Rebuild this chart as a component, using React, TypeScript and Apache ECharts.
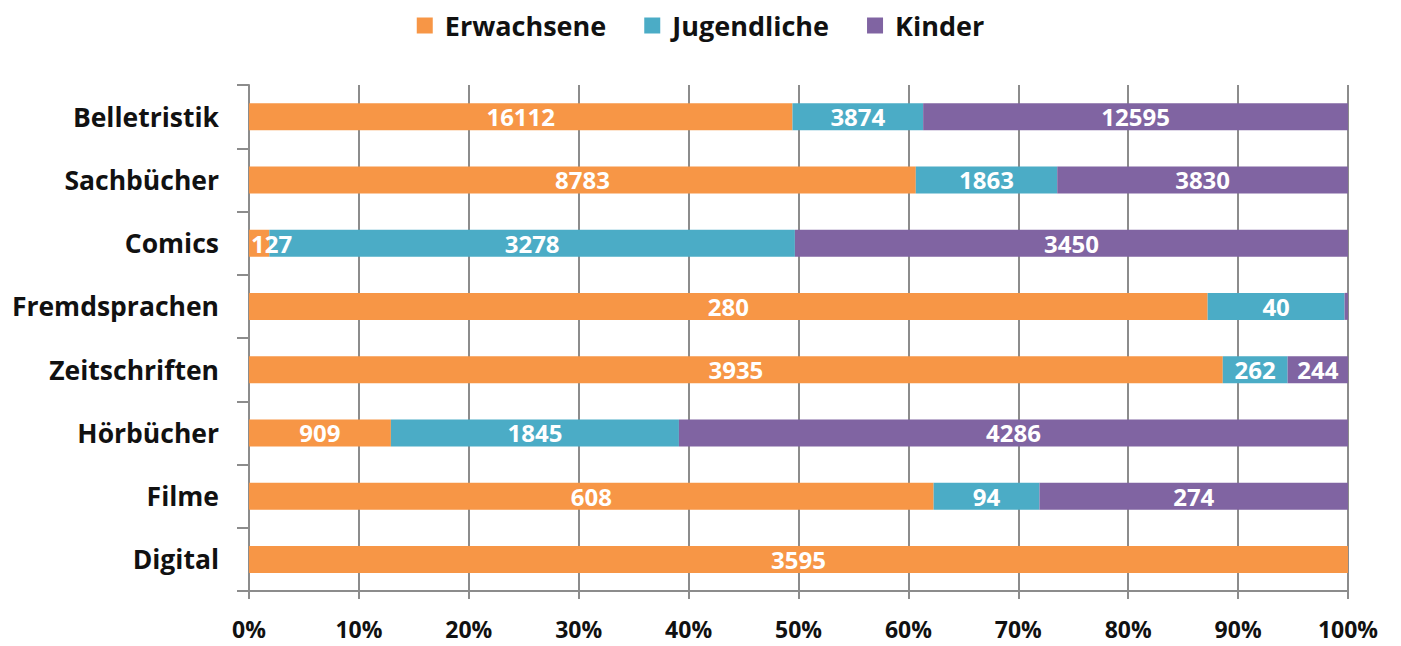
import React, { useEffect, useRef } from "react";
import * as echarts from "echarts";

const categories = ["Belletristik", "Sachbücher", "Comics", "Fremdsprachen", "Zeitschriften", "Hörbücher", "Filme", "Digital"];
const seriesNames = ["Erwachsene", "Jugendliche", "Kinder"];
const erwachsene = [16112, 8783, 127, 280, 3935, 909, 608, 3595];
const jugendliche = [3874, 1863, 3278, 40, 262, 1845, 94, 0];
const kinder = [12595, 3830, 3450, 1, 244, 4286, 274, 0];
const xTicks = [0, 10, 20, 30, 40, 50, 60, 70, 80, 90, 100];
const colors = ["#F79646", "#4BACC6", "#8064A2"];

const FONT = "'Open Sans', Lato, sans-serif";

export default function App() {
  const ref = useRef<HTMLDivElement>(null);
  useEffect(() => {
    if (!ref.current) return;
    const chart = echarts.init(ref.current, null, { renderer: "svg" });
    const raw = [erwachsene, jugendliche, kinder];
    const totals = categories.map((_, i) => raw.reduce((s, arr) => s + arr[i], 0));
    const series = raw.map((arr, si) => ({
      name: seriesNames[si],
      type: "bar",
      stack: "total",
      barWidth: 27,
      itemStyle: { color: colors[si] },
      label: {
        show: true,
        position: "inside",
        color: "#fff",
        fontFamily: FONT,
        fontWeight: "bold",
        fontSize: 24,
        formatter: (p: any) => (p.data.raw >= 5 ? String(p.data.raw) : ""),
      },
      data: arr.map((v, i) => {
        const pct = (v / totals[i]) * 100;
        const item: any = { value: pct, raw: v };
        if (pct > 0 && pct < 3) item.label = { position: "insideLeft", distance: 2 };
        return item;
      }),
    }));
    chart.setOption({
      animation: false,
      color: colors,
      legend: {
        top: 7,
        left: "center",
        itemWidth: 16,
        itemHeight: 16,
        itemGap: 38,
        icon: "rect",
        textStyle: { fontFamily: FONT, fontWeight: "bold", fontSize: 27, color: "#111", padding: [0, 0, 0, 7] },
        data: seriesNames,
      },
      grid: { left: 249, right: 53, top: 85, bottom: 55, containLabel: false },
      xAxis: {
        type: "value",
        min: xTicks[0],
        max: xTicks[xTicks.length - 1],
        interval: 10,
        axisLine: { show: true, lineStyle: { color: "#8c8c8c", width: 2 } },
        axisTick: { show: true, length: 8, lineStyle: { color: "#8c8c8c", width: 2 } },
        splitLine: { show: true, lineStyle: { color: "#8c8c8c", width: 2 } },
        axisLabel: {
          formatter: "{value}%",
          margin: 26,
          fontFamily: FONT,
          fontWeight: "bold",
          fontSize: 23,
          color: "#111",
        },
      },
      yAxis: {
        type: "category",
        inverse: true,
        data: categories,
        axisLine: { show: true, lineStyle: { color: "#8c8c8c", width: 2 } },
        axisTick: { show: true, length: 12, lineStyle: { color: "#8c8c8c", width: 2 } },
        axisLabel: {
          margin: 30,
          fontFamily: FONT,
          fontWeight: "bold",
          fontSize: 26.5,
          color: "#111",
        },
      },
      series,
    });
    return () => chart.dispose();
  }, []);
  return (
    <div
      ref={ref}
      style={{ position: "absolute", left: 0, top: 0, width: 1401, height: 646, background: "#fff" }}
    />
  );
}
